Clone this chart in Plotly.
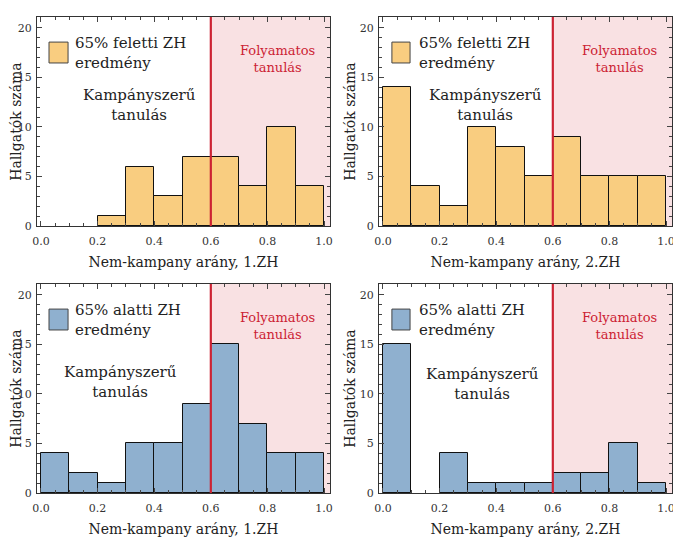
import plotly.graph_objects as go
from plotly.subplots import make_subplots

bin_edges = [0.0, 0.1, 0.2, 0.3, 0.4, 0.5, 0.6, 0.7, 0.8, 0.9, 1.0]
counts_above_zh1 = [0, 0, 1, 6, 3, 7, 7, 4, 10, 4]
counts_above_zh2 = [14, 4, 2, 10, 8, 5, 9, 5, 5, 5]
counts_below_zh1 = [4, 2, 1, 5, 5, 9, 15, 7, 4, 4]
counts_below_zh2 = [15, 0, 4, 1, 1, 1, 2, 2, 5, 1]
x_tick_vals = [0.0, 0.2, 0.4, 0.6, 0.8, 1.0]
x_tick_text = ["0.0", "0.2", "0.4", "0.6", "0.8", "1.0"]
y_tick_vals = [0, 5, 10, 15, 20]
threshold = 0.6
x_titles = ["Nem-kampany arány, 1.ZH", "Nem-kampany arány, 2.ZH",
            "Nem-kampany arány, 1.ZH", "Nem-kampany arány, 2.ZH"]
legend_texts = ["65% feletti ZH<br>eredmény", "65% feletti ZH<br>eredmény",
                "65% alatti ZH<br>eredmény", "65% alatti ZH<br>eredmény"]
y_title = "Hallgatók száma"
left_label = "Kampányszerű<br>tanulás"
right_label = "Folyamatos<br>tanulás"

ORANGE = "#f9cd80"
BLUE = "#8fb0cf"
RED = "#cc2233"
PINK = "#f9e1e3"
FONT = "DejaVu Serif"

series = [counts_above_zh1, counts_above_zh2, counts_below_zh1, counts_below_zh2]
colors = [ORANGE, ORANGE, BLUE, BLUE]
centers = [(bin_edges[i] + bin_edges[i + 1]) / 2 for i in range(len(bin_edges) - 1)]
widths = [bin_edges[i + 1] - bin_edges[i] for i in range(len(bin_edges) - 1)]

fig = make_subplots(rows=2, cols=2)

# page has an 8px body margin; figure coordinates = page - 8
W, H = 673, 546
OFF = 8
def px_x(a, b):
    return [(a - OFF) / W, (b - OFF) / W]
def px_y(top, bot):
    return [1 - (bot - OFF) / H, 1 - (top - OFF) / H]

xdoms = [px_x(37, 330), px_x(379, 672)]
ydoms = [px_y(17, 226), px_y(284, 493)]

kamp_pos = [(0.35, 0.58), (0.362, 0.58), (0.284, 0.53), (0.353, 0.52)]
leg_sq_x = [(0.041, 0.106), (0.044, 0.106), (0.041, 0.106), (0.044, 0.106)]
leg_txt_x = [0.123, 0.13, 0.123, 0.13]

for k in range(4):
    r, c = k // 2 + 1, k % 2 + 1
    yvals = [v if v > 0 else None for v in series[k]]
    fig.add_trace(go.Bar(x=centers, y=yvals, width=widths,
                         marker=dict(color=colors[k], line=dict(color="#111", width=1)),
                         showlegend=False, hoverinfo="skip"), row=r, col=c)
    axn = "" if k == 0 else str(k + 1)
    xref = "x" + axn
    yref = "y" + axn
    fig.update_xaxes(domain=xdoms[c - 1], automargin=False, row=r, col=c)
    fig.update_yaxes(domain=ydoms[r - 1], automargin=False, row=r, col=c)
    fig.update_xaxes(range=[-0.014, 1.021], tickvals=x_tick_vals, ticktext=x_tick_text,
                     ticks="inside", ticklen=5, tickcolor="#444", showline=True,
                     linecolor="#333", linewidth=1, mirror="ticks", showgrid=False,
                     zeroline=False, tickfont=dict(family=FONT, size=11, color="#333"),
                     ticklabelstandoff=5, ticklabeloverflow="allow",
                     minor=dict(dtick=0.05, tick0=0, ticks="inside", ticklen=3, tickcolor="#444"),
                     title=dict(text=x_titles[k], font=dict(family=FONT, size=14, color="#222"),
                                standoff=9),
                     row=r, col=c)
    fig.update_yaxes(range=[0, 21.1], tickvals=y_tick_vals,
                     ticks="inside", ticklen=5, tickcolor="#444", showline=True,
                     linecolor="#333", linewidth=1, mirror="ticks", showgrid=False,
                     zeroline=False, tickfont=dict(family=FONT, size=11, color="#333"),
                     ticklabelstandoff=2, ticklabeloverflow="allow",
                     minor=dict(dtick=1, tick0=0, ticks="inside", ticklen=3, tickcolor="#444"),
                     title=dict(text=y_title, font=dict(family=FONT, size=14, color="#222"),
                                standoff=0),
                     row=r, col=c)
    fig.add_shape(type="rect", xref=xref, yref=yref + " domain", x0=threshold, x1=1.021,
                  y0=0, y1=1, fillcolor=PINK, line=dict(width=0), layer="below")
    fig.add_shape(type="line", xref=xref, yref=yref + " domain", x0=threshold, x1=threshold,
                  y0=0, y1=1, line=dict(color=RED, width=2.2), layer="above")
    sx0, sx1 = leg_sq_x[k]
    fig.add_shape(type="rect", xref=xref + " domain", yref=yref + " domain",
                  x0=sx0, x1=sx1, y0=0.78, y1=0.88, fillcolor=colors[k],
                  line=dict(color="#444", width=1), layer="above")
    fig.add_annotation(xref=xref + " domain", yref=yref + " domain", x=leg_txt_x[k], y=0.83,
                       text=legend_texts[k], showarrow=False, xanchor="left", yanchor="middle",
                       align="left", font=dict(family=FONT, size=15, color="#222"))
    kx, ky = kamp_pos[k]
    fig.add_annotation(xref=xref + " domain", yref=yref + " domain", x=kx, y=ky,
                       text=left_label, showarrow=False, xanchor="center", yanchor="middle",
                       align="center", font=dict(family=FONT, size=15, color="#222"))
    fig.add_annotation(xref=xref + " domain", yref=yref + " domain", x=0.82, y=0.80,
                       text=right_label, showarrow=False, xanchor="center", yanchor="middle",
                       align="center", font=dict(family=FONT, size=13, color=RED))

fig.update_layout(width=W, height=H, margin=dict(l=0, r=0, t=0, b=0),
                  plot_bgcolor="white", paper_bgcolor="white", bargap=0,
                  font=dict(family=FONT))

fig.write_html("out.html")
